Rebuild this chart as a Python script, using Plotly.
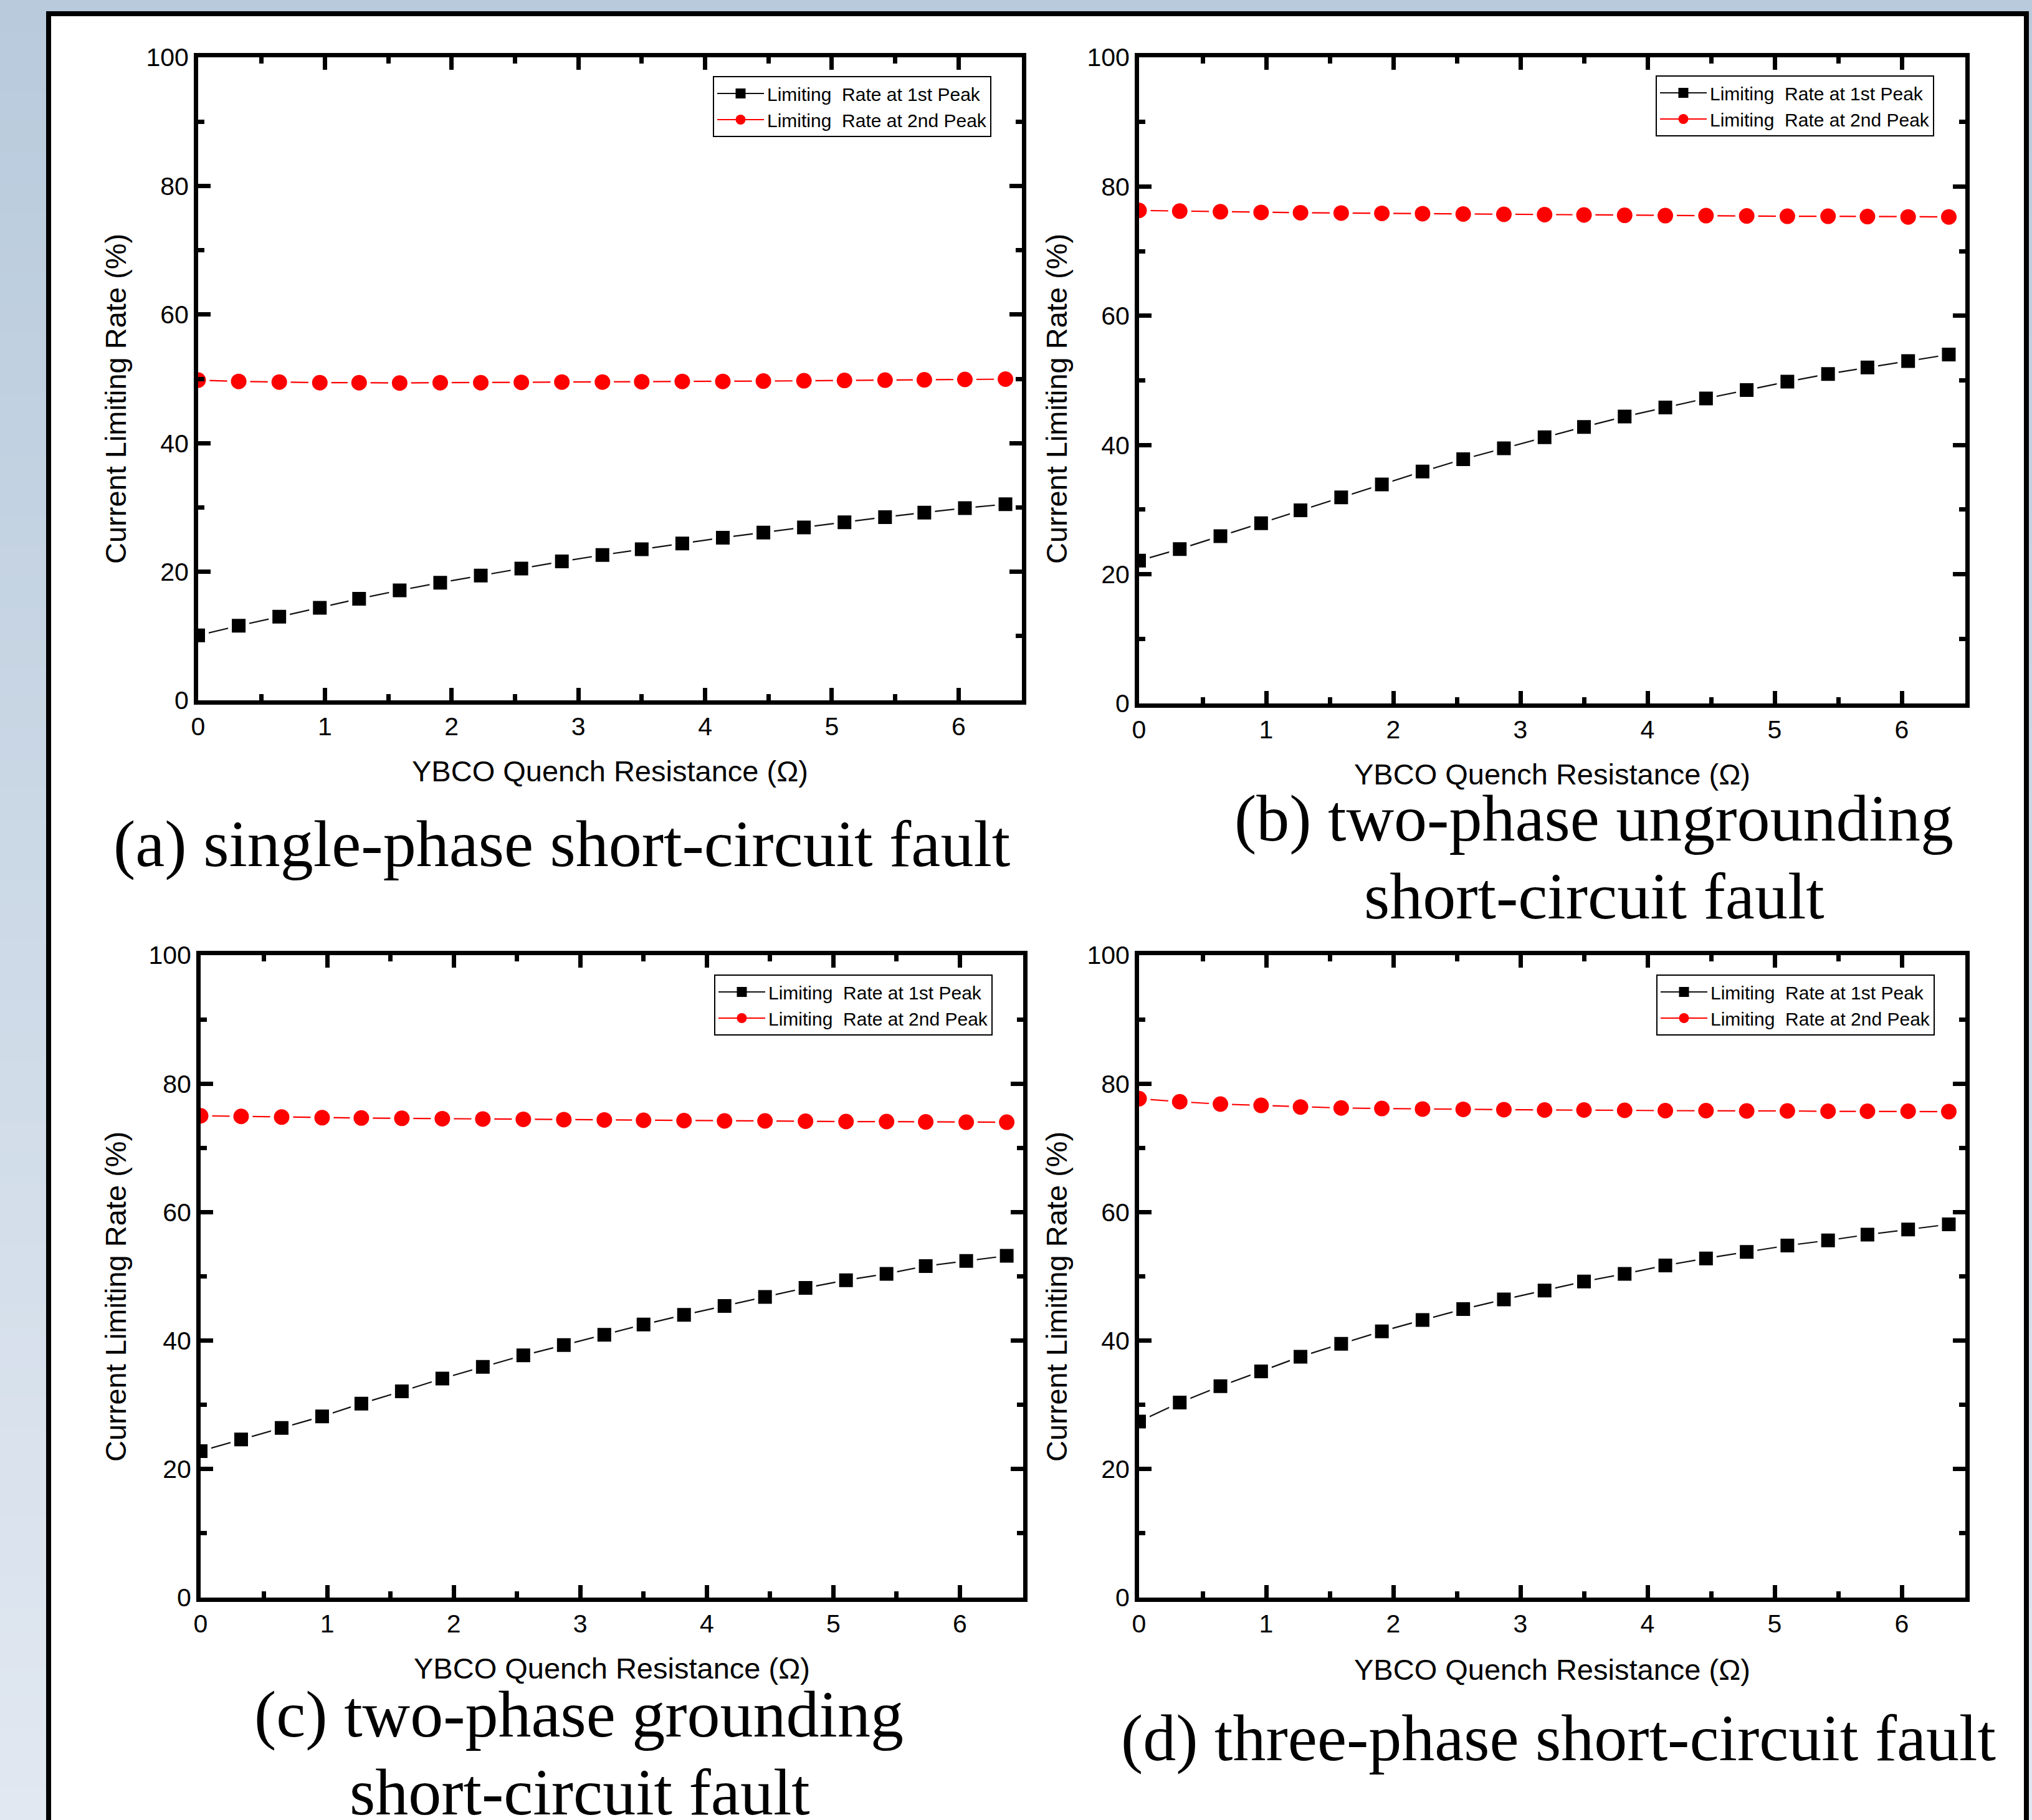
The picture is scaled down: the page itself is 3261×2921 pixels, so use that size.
import plotly.graph_objects as go

W, H = 3261, 2921

# ---------------- data ----------------
resistance_ohm = [0.00, 0.32, 0.64, 0.96, 1.27, 1.59, 1.91, 2.23, 2.55, 2.87, 3.19,
                  3.50, 3.82, 4.14, 4.46, 4.78, 5.10, 5.42, 5.73, 6.05, 6.37]

a_first = [10.1, 11.6, 13.0, 14.4, 15.8, 17.1, 18.3, 19.4, 20.5, 21.6, 22.6,
           23.5, 24.4, 25.3, 26.1, 26.9, 27.7, 28.5, 29.2, 29.9, 30.5]
a_second = [49.8, 49.6, 49.5, 49.4, 49.4, 49.35, 49.4, 49.4, 49.45, 49.5, 49.5,
            49.55, 49.6, 49.6, 49.65, 49.7, 49.75, 49.8, 49.85, 49.9, 49.95]

b_first = [22.1, 23.9, 25.9, 27.9, 29.9, 31.9, 33.9, 35.9, 37.8, 39.5, 41.2,
           42.8, 44.4, 45.8, 47.2, 48.5, 49.8, 51.0, 52.0, 53.0, 54.0]
b_second = [76.3, 76.2, 76.1, 76.0, 75.95, 75.9, 75.85, 75.8, 75.75, 75.7, 75.65,
            75.6, 75.55, 75.5, 75.5, 75.45, 75.4, 75.4, 75.35, 75.3, 75.3]

c_first = [22.8, 24.6, 26.4, 28.2, 30.2, 32.1, 34.1, 35.9, 37.7, 39.3, 40.9,
           42.5, 44.0, 45.4, 46.8, 48.2, 49.4, 50.4, 51.6, 52.4, 53.2]
c_second = [75.0, 74.9, 74.8, 74.7, 74.65, 74.6, 74.55, 74.5, 74.45, 74.4, 74.35,
            74.3, 74.25, 74.2, 74.2, 74.15, 74.1, 74.1, 74.05, 74.0, 74.0]

d_first = [27.4, 30.35, 32.9, 35.2, 37.5, 39.5, 41.45, 43.2, 44.9, 46.4, 47.8,
           49.2, 50.4, 51.7, 52.8, 53.8, 54.8, 55.6, 56.5, 57.3, 58.1]
d_second = [77.66, 77.18, 76.82, 76.62, 76.37, 76.21, 76.13, 76.05, 76.0, 75.95, 75.9,
            75.9, 75.85, 75.8, 75.8, 75.75, 75.75, 75.7, 75.7, 75.7, 75.65]

series_names = ["Limiting\u00a0 Rate at 1st Peak", "Limiting\u00a0 Rate at 2nd Peak"]
captions = {
    "a": ["(a) single-phase short-circuit fault"],
    "b": ["(b) two-phase ungrounding", "short-circuit fault"],
    "c": ["(c) two-phase grounding", "short-circuit fault"],
    "d": ["(d) three-phase short-circuit fault"],
}
x_title = "YBCO Quench Resistance (\u03a9)"
y_title = "Current Limiting Rate (%)"

# ---------------- styling ----------------
NARROW = "Liberation Sans Narrow, Arial Narrow, Liberation Sans, Arial, sans-serif"
SERIF = "Liberation Serif, Times New Roman, serif"

def px_x(p):
    return p / W

def px_y(p):
    return 1 - p / H

# plot boxes in pixels (left, right, top, bottom)
boxes = {
    "a": (318, 1640, 92, 1124),
    "b": (1828, 3154, 92, 1129),
    "c": (322, 1642, 1533, 2564),
    "d": (1828, 3154, 1533, 2564),
}

fig = go.Figure()

panels = [("a", a_first, a_second), ("b", b_first, b_second),
          ("c", c_first, c_second), ("d", d_first, d_second)]

BLACK_LINE = dict(color="#111111", width=2.2)
RED_LINE = dict(color="#ff0000", width=2.2)

for i, (key, first, second) in enumerate(panels, start=1):
    xa = "x" if i == 1 else f"x{i}"
    ya = "y" if i == 1 else f"y{i}"
    lg = "legend" if i == 1 else f"legend{i}"
    fig.add_trace(go.Scatter(
        x=resistance_ohm, y=first, mode="lines+markers", name=series_names[0],
        xaxis=xa, yaxis=ya, showlegend=False,
        line=BLACK_LINE,
        marker=dict(symbol="square", size=28, color="black",
                    line=dict(color="white", width=6)),
    ))
    fig.add_trace(go.Scatter(
        x=resistance_ohm, y=second, mode="lines+markers", name=series_names[1],
        xaxis=xa, yaxis=ya, showlegend=False,
        line=RED_LINE,
        marker=dict(symbol="circle", size=31, color="#ff0000",
                    line=dict(color="white", width=6)),
    ))
    # legend entries (no data drawn)
    fig.add_trace(go.Scatter(
        x=[None], y=[None], mode="lines+markers", name=series_names[0],
        xaxis=xa, yaxis=ya, legend=lg, showlegend=True,
        line=BLACK_LINE, marker=dict(symbol="square", size=16, color="black"),
    ))
    fig.add_trace(go.Scatter(
        x=[None], y=[None], mode="lines+markers", name=series_names[1],
        xaxis=xa, yaxis=ya, legend=lg, showlegend=True,
        line=RED_LINE, marker=dict(symbol="circle", size=16, color="#ff0000"),
    ))

layout = dict(
    template="none",
    width=W, height=H, autosize=False,
    margin=dict(l=0, r=0, t=0, b=0, pad=0, autoexpand=False),
    paper_bgcolor="#ccd9e6", plot_bgcolor="white",
    showlegend=True,
)

common_axis = dict(
    showline=True, linewidth=7, linecolor="black", mirror="allticks",
    ticks="inside", ticklen=20, tickwidth=7, tickcolor="black",
    showgrid=False, zeroline=False, automargin=False,
    tickfont=dict(family=NARROW, size=41, color="black"),
    layer="above traces",
)

for i, key in enumerate(["a", "b", "c", "d"], start=1):
    l, r, t, b = boxes[key]
    xk = "xaxis" if i == 1 else f"xaxis{i}"
    yk = "yaxis" if i == 1 else f"yaxis{i}"
    ya = "y" if i == 1 else f"y{i}"
    xa = "x" if i == 1 else f"x{i}"
    layout[xk] = dict(common_axis, domain=[px_x(l), px_x(r)], anchor=ya,
                      range=[0, 6.5], tick0=0, dtick=1,
                      minor=dict(dtick=0.5, tick0=0, ticks="inside", ticklen=10,
                                 tickwidth=7, tickcolor="black", showgrid=False))
    layout[yk] = dict(common_axis, domain=[px_y(b), px_y(t)], anchor=xa,
                      range=[0, 100], tick0=0, dtick=20,
                      minor=dict(dtick=10, tick0=0, ticks="inside", ticklen=10,
                                 tickwidth=7, tickcolor="black", showgrid=False))

# legends
legend_pos = {"a": (1591, 122), "b": (3104, 121), "c": (1593, 1564), "d": (3105, 1564)}
for i, key in enumerate(["a", "b", "c", "d"], start=1):
    lk = "legend" if i == 1 else f"legend{i}"
    rx, ty = legend_pos[key]
    layout[lk] = dict(x=px_x(rx), y=px_y(ty), xanchor="right", yanchor="top",
                      xref="paper", yref="paper",
                      bgcolor="white", bordercolor="black", borderwidth=2,
                      font=dict(family=NARROW, size=30, color="black"),
                      tracegroupgap=0, itemsizing="trace", itemwidth=75)

fig.update_layout(**layout)

# background gradient bands + white panel
shapes = []
nb = 60
top_rgb = (184, 202, 220)
bot_rgb = (225, 232, 241)
for k in range(nb):
    f = k / (nb - 1)
    col = tuple(round(top_rgb[j] + (bot_rgb[j] - top_rgb[j]) * f) for j in range(3))
    shapes.append(dict(type="rect", xref="paper", yref="paper", layer="below",
                       x0=0, x1=1, y0=1 - (k + 1) / nb - 0.001, y1=1 - k / nb,
                       fillcolor="rgb(%d,%d,%d)" % col, line=dict(width=0)))
shapes.append(dict(type="rect", xref="paper", yref="paper", layer="below",
                   x0=px_x(78), x1=px_x(3252), y0=-0.01, y1=px_y(22),
                   fillcolor="white", line=dict(color="black", width=8)))
fig.update_layout(shapes=shapes)

# axis titles and captions
annotations = []
xt_y = {"a": 1237, "b": 1242, "c": 2677, "d": 2679}
yt_x = {"a": 185, "b": 1695, "c": 185, "d": 1695}
yt_y = {"a": 640, "b": 640, "c": 2081, "d": 2081}
for key in ["a", "b", "c", "d"]:
    l, r, t, b = boxes[key]
    annotations.append(dict(x=px_x((l + r) / 2), y=px_y(xt_y[key]), xref="paper", yref="paper",
                            text=x_title, showarrow=False, xanchor="center", yanchor="middle",
                            font=dict(family=NARROW, size=47, color="black")))
    annotations.append(dict(x=px_x(yt_x[key]), y=px_y(yt_y[key]), xref="paper", yref="paper",
                            text=y_title, showarrow=False, textangle=-90,
                            xanchor="center", yanchor="middle",
                            font=dict(family=NARROW, size=47, color="black")))

cap_pos = {
    "a": [(901, 1354)],
    "b": [(2558, 1314), (2558, 1439)],
    "c": [(929, 2751), (930, 2876)],
    "d": [(2501, 2789)],
}
for key, lines in captions.items():
    for txt, (cx, cy) in zip(lines, cap_pos[key]):
        annotations.append(dict(x=px_x(cx), y=px_y(cy), xref="paper", yref="paper",
                                text=txt, showarrow=False, xanchor="center", yanchor="middle",
                                font=dict(family=SERIF, size=106, color="black")))
fig.update_layout(annotations=annotations)

fig.write_html("out.html",
               config={"displayModeBar": False},
               post_script="document.body.style.margin='0px';document.body.style.overflow='hidden';")
